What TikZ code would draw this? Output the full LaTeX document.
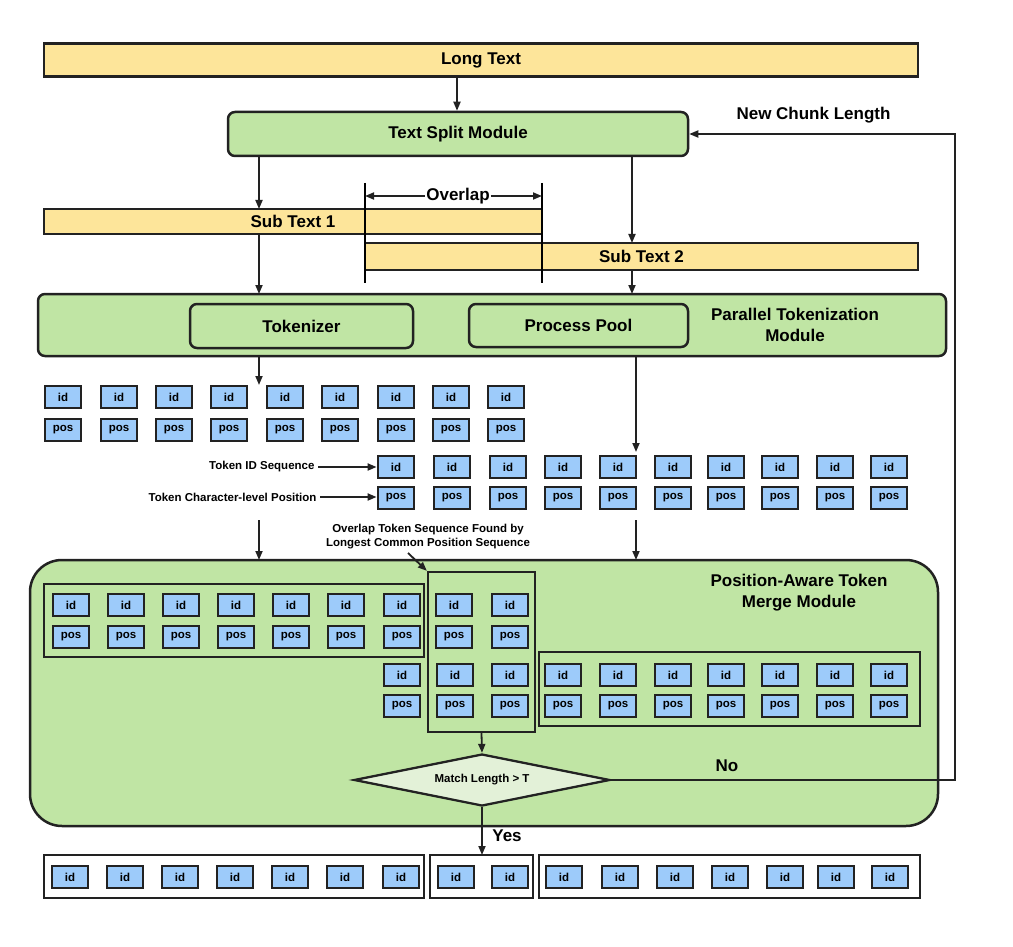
\documentclass[tikz,border=0pt]{standalone}
\usepackage{fontspec}
\setmainfont{Liberation Sans}
\usetikzlibrary{shapes.geometric,arrows.meta}
\definecolor{ylw}{HTML}{FDE59A}
\definecolor{grn}{HTML}{C0E5A4}
\definecolor{lgrn}{HTML}{E3F1D8}
\definecolor{blu}{HTML}{9DCBFA}
\definecolor{edge}{HTML}{222222}
\begin{document}
\begin{tikzpicture}[x=1pt,y=-1pt,
  bar/.style={draw=edge,line width=2.2pt,fill=ylw,font=\bfseries\fontsize{17}{18}\selectfont},
  mod/.style={draw=edge,line width=2.5pt,fill=grn,rounded corners=7pt,font=\bfseries\fontsize{17}{20}\selectfont},
  tk/.style={draw=edge,line width=2.8pt,fill=blu,minimum width=36pt,minimum height=22pt,inner sep=0pt,font=\bfseries\fontsize{11.5}{12}\selectfont},
  grp/.style={draw=edge,line width=2.3pt},
  arr/.style={-{Triangle[length=9pt,width=7pt]},line width=1.8pt,draw=edge},
  lbl/.style={font=\bfseries\fontsize{17}{21}\selectfont,align=center},
  sm/.style={font=\bfseries\fontsize{11.5}{14}\selectfont,align=center}]
\useasboundingbox (0,0) rectangle (1013,947);
\fill[white] (0,0) rectangle (1013,947);
% top
\node[bar,minimum width=874pt,minimum height=33pt] (long) at (481,60) {Long Text};
\node[mod,minimum width=460pt,minimum height=44pt] (split) at (458,134) {Text Split Module};
\draw[arr] (457,77) -- (split.north -| 457,0);
\node[lbl,anchor=west] (ncl) at (733,115) {New Chunk Length};
\node[bar,minimum width=498pt,minimum height=25pt] (s1) at (293,221.5) {Sub Text 1};
\node[bar,minimum width=553pt,minimum height=27pt] (s2) at (641.5,256.5) {Sub Text 2};
\draw[arr] (259,156) -- (259,209);
\draw[arr] (632,156) -- (632,243);
\draw[line width=1.8pt] (365,183) -- (365,283) (542,183) -- (542,283);
\node[lbl,fill=white,inner sep=1pt] (ov) at (458,196) {Overlap};
\draw[arr] (ov.west) -- (365,196);
\draw[arr] (ov.east) -- (542,196);
% parallel
\node[mod,minimum width=908pt,minimum height=62pt] (par) at (492,325) {};
\node[mod,minimum width=223pt,minimum height=44pt] (tok) at (301.5,326) {Tokenizer};
\node[mod,minimum width=219pt,minimum height=43pt] (pool) at (578.5,325.5) {Process Pool};
\node[lbl] (parl) at (795,325) {Parallel Tokenization\\Module};
\draw[arr] (259,234) -- (259,294);
\draw[arr] (632,270) -- (632,294);
\draw[arr] (259,356) -- (259,385);
\draw[arr] (636,356) -- (636,452);
% row 1
\foreach \x [count=\i] in {63,119,174,229,285,340,396,451,506}{
  \node[tk] (ra\i) at (\x,397) {id};
  \node[tk] (rb\i) at (\x,430) {pos};}
% row 2
\foreach \x [count=\i] in {396,452,508,563,618,673,726,780,835,889}{
  \node[tk] (qa\i) at (\x,467) {id};
  \node[tk] (qb\i) at (\x,498) {pos};}
\node[sm,anchor=east] (tid) at (318,467) {Token ID Sequence};
\node[sm,anchor=east] (tcp) at (320,497) {Token Character-level Position};
\draw[arr] (tid.east) -- (tid.east -| qa1.west);
\draw[arr] (tcp.east) -- (tcp.east -| qb1.west);
\draw[arr] (259,520) -- (259,560);
\draw[arr] (636,520) -- (636,560);
% merge
\node[mod,rounded corners=32pt,minimum width=908pt,minimum height=266pt] (mer) at (484,693) {};
\node[lbl] (merl) at (799,593) {Position-Aware Token\\Merge Module};
\node[sm] (olt) at (428,537) {Overlap Token Sequence Found by\\Longest Common Position Sequence};
\draw[grp] (44,584) rectangle (424,657);
\foreach \x [count=\i] in {71,126,181,236,291,346,402}{
  \node[tk] (ga\i) at (\x,605) {id};
  \node[tk] (gb\i) at (\x,637) {pos};}
\node[grp,minimum width=107pt,minimum height=160pt,inner sep=0pt] (ovr) at (481.5,652) {};
\draw[arr] (408,553) -- (ovr.north west);
\node[tk] at (454,605) {id};\node[tk] at (510,605) {id};
\node[tk] at (454,637) {pos};\node[tk] at (510,637) {pos};
\node[tk] at (455,675) {id};\node[tk] at (510,675) {id};
\node[tk] at (455,706) {pos};\node[tk] at (510,706) {pos};
\node[tk] at (402,675) {id};\node[tk] at (402,706) {pos};
\draw[grp] (539,652) rectangle (920,726);
\foreach \x [count=\i] in {563,618,673,726,780,835,889}{
  \node[tk] (ha\i) at (\x,675) {id};
  \node[tk] (hb\i) at (\x,706) {pos};}
\node[diamond,aspect=4.9,draw=edge,line width=2.3pt,fill=lgrn,minimum width=256pt,minimum height=52pt,inner sep=0pt,font=\bfseries\fontsize{11.5}{12}\selectfont] (dia) at (482,780) {Match Length > T};
\draw[arr] (ovr.south) -- (dia.north);
\draw[arr] (dia.east) -- (955,780) -- (955,134) -- (split.east);
\node[lbl] (no) at (727,766) {No};
\node[lbl] (yes) at (507,836) {Yes};
% bottom
\draw[grp] (44,855) rectangle (424,898);
\draw[grp] (430,855) rectangle (533,898);
\draw[grp] (539,855) rectangle (920,898);
\coordinate (bt) at (482,855);
\draw[arr] (dia.south) -- (bt);
\foreach \x in {70,125,180,235,290,345,401,456,510,564,620,675,730,785,836,890}{
  \node[tk] at (\x,877) {id};}
\end{tikzpicture}
\end{document}
